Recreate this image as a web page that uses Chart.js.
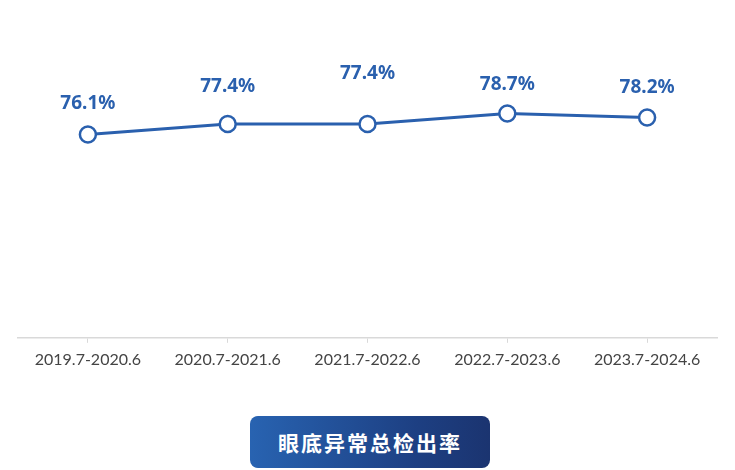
<!DOCTYPE html>
<html lang="zh">
<head>
  <meta charset="UTF-8" />
  <title>眼底异常总检出率</title>
  <style>
    body {
      margin: 0;
      background: #fff;
      width: 735px;
      height: 470px;
      position: relative;
      overflow: hidden;
    }
    #chart-box {
      position: absolute;
      left: 0;
      top: 0;
      width: 735px;
      height: 385px;
    }
    #title-btn {
      position: absolute;
      left: 250px;
      top: 416px;
      width: 240px;
      height: 52px;
      border-radius: 8px;
      background: linear-gradient(90deg, #2863b1 0%, #1d3f82 70%, #1b3470 100%);
      color: #fff;
      font-family: 'Noto Sans CJK SC', sans-serif;
      font-weight: 700;
      font-size: 21px;
      letter-spacing: 2px;
      display: flex;
      align-items: center;
      justify-content: center;
    }
  </style>
</head>
<body>
  <div id="chart-box">
    <canvas id="rateChart"></canvas>
  </div>
  <div id="title-btn">眼底异常总检出率</div>

  <script src="https://cdn.jsdelivr.net/npm/chart.js"></script>
  <script>
    // school years and detection rate (%)
    const periods = ['2019.7-2020.6', '2020.7-2021.6', '2021.7-2022.6', '2022.7-2023.6', '2023.7-2024.6'];
    const rates = [76.1, 77.4, 77.4, 78.7, 78.2];

    const blue = '#2a60ae';

    // value labels above each point (extra lift per point, px)
    const labelLift = [31, 37, 50, 29, 30];
    const valueLabels = {
      id: 'valueLabels',
      afterDatasetsDraw(chart) {
        const ctx = chart.ctx;
        const meta = chart.getDatasetMeta(0);
        ctx.save();
        ctx.fillStyle = blue;
        ctx.font = 'bold 19px "Noto Sans", sans-serif';
        ctx.textAlign = 'center';
        ctx.textBaseline = 'middle';
        meta.data.forEach((pt, i) => {
          ctx.fillText(rates[i].toFixed(1) + '%', pt.x, pt.y - labelLift[i]);
        });
        ctx.restore();
      }
    };

    const ctx = document.getElementById('rateChart').getContext('2d');
    new Chart(ctx, {
      type: 'line',
      data: {
        labels: periods,
        datasets: [{
          data: rates,
          borderColor: blue,
          borderWidth: 3,
          tension: 0,
          pointRadius: 8,
          pointHoverRadius: 8,
          pointBackgroundColor: '#fff',
          pointBorderColor: blue,
          pointBorderWidth: 2.5
        }]
      },
      options: {
        responsive: true,
        maintainAspectRatio: false,
        animation: false,
        layout: {
          padding: { left: 18, right: 18, top: 22, bottom: 9 }
        },
        plugins: {
          legend: { display: false },
          tooltip: { enabled: false }
        },
        scales: {
          y: {
            display: false,
            min: 51,
            max: 90
          },
          x: {
            offset: true,
            border: { color: '#d9d9d9', width: 1.5 },
            grid: {
              offset: false,
              drawOnChartArea: false,
              color: '#d9d9d9',
              tickLength: 5
            },
            ticks: {
              color: '#444',
              padding: 7,
              maxRotation: 0,
              font: { family: 'Lato, sans-serif', size: 16 }
            }
          }
        }
      },
      plugins: [valueLabels]
    });
  </script>
</body>
</html>
